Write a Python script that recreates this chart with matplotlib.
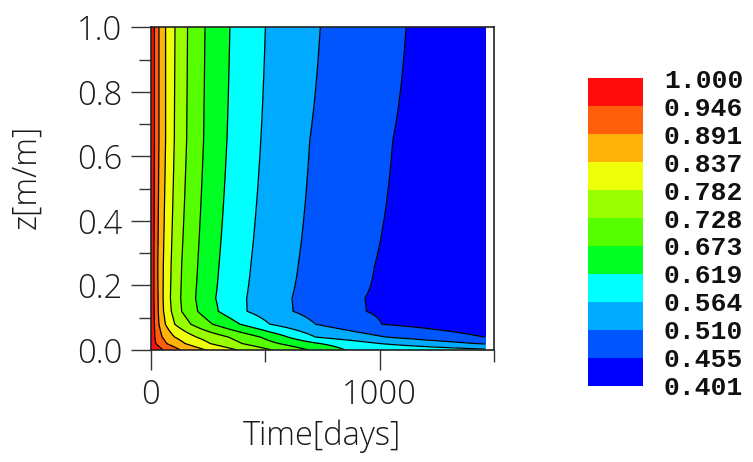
import numpy as np
import matplotlib
matplotlib.use("Agg")
import matplotlib.pyplot as plt
from matplotlib.colors import ListedColormap, BoundaryNorm

# Saturation levels shown on the colour bar (11 bands, 12 boundaries)
level_min, level_max = 0.401, 1.000
levels = np.linspace(level_min, level_max, 12)

# Depth nodes of the profile table
depth_nodes = [0.00, 0.02, 0.04, 0.08, 0.12, 0.16, 0.26, 0.65, 1.00]

# Time [days] at which each depth node falls to the levels
# 0.946, 0.891, 0.837, 0.782, 0.728, 0.673, 0.619, 0.564, 0.510, 0.455, 0.401
crossing_days = [
    [55, 130, 240, 380, 530, 690, 850, 1600, 2000, 2400, 2800],
    [22, 70, 150, 260, 400, 560, 740, 1000, 1420, 1900, 2400],
    [18, 50, 105, 200, 340, 480, 600, 720, 1029, 1458, 2000],
    [16, 36, 64, 105, 175, 270, 390, 520, 720, 1010, 1700],
    [15, 33, 56, 90, 135, 205, 295, 421, 622, 942, 1650],
    [14, 32, 54, 86, 131, 196, 284, 419, 617, 936, 1650],
    [14, 31, 55, 89, 135, 205, 298, 437, 644, 978, 1650],
    [16, 36, 65, 103, 157, 231, 333, 481, 695, 1058, 1700],
    [16, 36, 65, 106, 161, 237, 346, 501, 741, 1116, 1750],
]

t_end = 1461  # last simulated day

band_colors = ['#0000ff', '#0055ff', '#00aaff', '#00ffff', '#00ff22',
               '#55ff00', '#99ff00', '#eeff0a', '#ffb30a', '#ff5f0a', '#ff0d0d']

# Build the (depth x time) field from the profile table
t = np.linspace(0, t_end, 700)
desc_levels = levels[::-1]  # 1.000 ... 0.401
field = np.array([
    np.interp(t, np.concatenate([[0.0], row]), desc_levels)
    for row in crossing_days
])
Z, T = np.meshgrid(depth_nodes, t, indexing="ij")

cmap = ListedColormap(band_colors)
norm = BoundaryNorm(levels, cmap.N)

fig = plt.figure(figsize=(7.53, 4.62), dpi=100)
ax = fig.add_axes([150.7 / 753, 1 - 350 / 462, 343.3 / 753, 322.7 / 462])

ax.contourf(T, Z, field, levels=levels, cmap=cmap, norm=norm)
ax.contour(T, Z, field, levels=levels[1:-1], colors='black', linewidths=0.9)

ax.set_xlim(0, 1500)
ax.set_ylim(0, 1.0)

label_font = dict(family=['Open Sans', 'DejaVu Sans'], weight='light', size=23.5,
                  color='#1a1a1a')
ax.set_xticks([0, 1000])
ax.set_xticks([500, 1500], minor=True)
ax.set_yticks([0.0, 0.2, 0.4, 0.6, 0.8, 1.0])
ax.set_yticks([0.1, 0.3, 0.5, 0.7, 0.9], minor=True)
ax.set_xticklabels(['0', '1000'], fontdict=label_font)
ax.set_yticklabels(['0.0', '0.2', '0.4', '0.6', '0.8', '1.0'], fontdict=label_font)
ax.tick_params(which='major', direction='out', length=14.4, width=1.0,
               color='#333333', pad=6)
ax.tick_params(which='minor', direction='out', length=8.6, width=1.0,
               color='#333333')
for sp in ax.spines.values():
    sp.set_color('#222222')
    sp.set_linewidth(1.2)

ax.set_xlabel('Time[days]', fontdict=label_font)
ax.set_ylabel('z[m/m]', fontdict=label_font)
ax.xaxis.set_label_coords(0.5, -0.215)
ax.yaxis.set_label_coords(-0.312, 0.536)

# Colour bar
cax = fig.add_axes([588 / 753, 1 - 385.7 / 462, 55 / 753, 307.4 / 462])
cb = fig.colorbar(plt.cm.ScalarMappable(norm=norm, cmap=cmap), cax=cax,
                  boundaries=levels, ticks=levels)
cb.outline.set_visible(False)
cax.tick_params(length=0, pad=15)
cax.set_yticklabels([f"{v:.3f}" for v in levels],
                    fontdict=dict(family='Liberation Mono', weight='bold',
                                  size=19, color='#111111'))

fig.savefig('out.png', dpi=100)
